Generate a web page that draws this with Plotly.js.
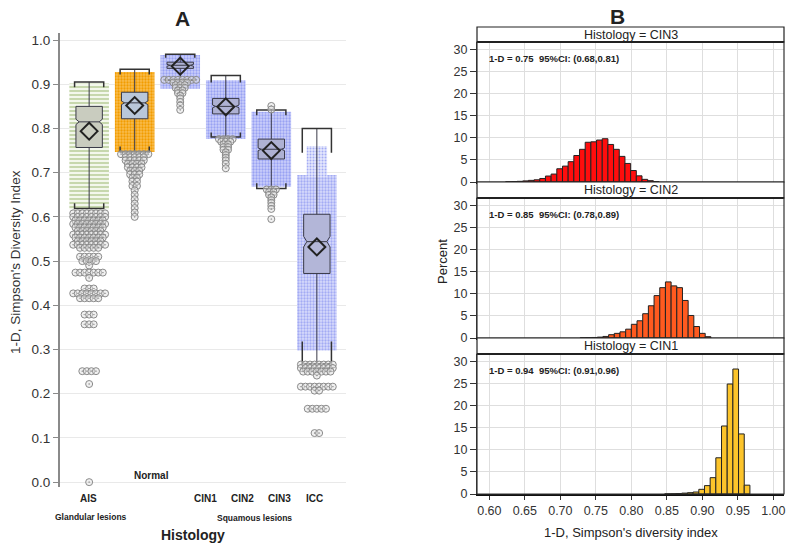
<!DOCTYPE html>
<html>
<head>
<meta charset="utf-8">
<script src="https://cdn.plot.ly/plotly-3.0.1.min.js"></script>
<style>
  html, body { margin: 0; padding: 0; background: #fff; }
  #chart { width: 790px; height: 547px; }
</style>
</head>
<body>
<div id="chart"></div>
<script>
// Panel A: box plot summaries per histology group
const groups = ['AIS', 'Normal', 'CIN1', 'CIN2', 'CIN3', 'ICC'];
const q1 = [0.757, 0.822, 0.936, 0.833, 0.731, 0.472];
const median = [0.815, 0.858, 0.943, 0.850, 0.753, 0.544];
const q3 = [0.850, 0.882, 0.950, 0.868, 0.776, 0.606];
const lowerFence = [0.619, 0.747, 0.909, 0.781, 0.664, 0.268];
const upperFence = [0.905, 0.934, 0.968, 0.920, 0.842, 0.800];
const means = [0.794, 0.852, 0.941, 0.849, 0.750, 0.532];
const notchSpan = [0.006, 0.004, 0.002, 0.003, 0.003, 0.012];

// extent of the jittered bootstrap clouds
const cloudLow = [0.617, 0.747, 0.890, 0.776, 0.668, 0.298];
const cloudHigh = [0.902, 0.928, 0.966, 0.909, 0.838, 0.695];
const iccTipLow = 0.69;
const iccTipHigh = 0.76;

// bracket depth of whisker caps
const upperCapDrop = [0.012, 0.012, 0.008, 0.016, 0.012, 0.055];
const lowerCapRise = [0.012, 0.012, 0.006, 0.010, 0.012, 0.050];

// outliers: value rows and how many circles in each row
const aisOutVals = [0.608, 0.600, 0.592, 0.584, 0.576, 0.568, 0.560, 0.553, 0.545, 0.537, 0.530, 0.510, 0.500, 0.490, 0.474, 0.462, 0.438, 0.427, 0.416, 0.379, 0.357, 0.251, 0.222, 0.000];
const aisOutCounts = [8, 8, 7, 8, 7, 6, 8, 7, 6, 8, 5, 5, 4, 1, 7, 1, 3, 8, 5, 3, 3, 4, 1, 1];
const normalOutVals = [0.742, 0.735, 0.728, 0.720, 0.712, 0.704, 0.696, 0.688, 0.680, 0.670, 0.660, 0.650, 0.640, 0.630, 0.620, 0.610, 0.600];
const normalOutCounts = [7, 5, 5, 4, 4, 3, 3, 2, 2, 2, 1, 1, 1, 1, 1, 1, 1];
const cin1OutVals = [0.910, 0.904, 0.898, 0.892, 0.886, 0.880, 0.874, 0.868, 0.860, 0.852, 0.842];
const cin1OutCounts = [8, 4, 3, 3, 2, 2, 1, 1, 1, 1, 1];
const cin2OutVals = [0.776, 0.770, 0.764, 0.758, 0.752, 0.746, 0.740, 0.734, 0.728, 0.720, 0.710];
const cin2OutCounts = [4, 3, 2, 2, 2, 1, 1, 1, 1, 1, 1];
const cin3OutVals = [0.851, 0.843, 0.662, 0.656, 0.650, 0.644, 0.638, 0.632, 0.625, 0.618, 0.595];
const cin3OutCounts = [1, 1, 3, 2, 2, 1, 1, 1, 1, 1, 1];
const iccOutVals = [0.266, 0.258, 0.250, 0.241, 0.216, 0.207, 0.166, 0.111];
const iccOutCounts = [8, 8, 7, 1, 8, 2, 5, 2];

// Panel B: bootstrap histograms (bin centres, percent)
const cin3Bins = [0.627, 0.635, 0.643, 0.651, 0.659, 0.667, 0.675, 0.683, 0.691, 0.699, 0.707, 0.715, 0.723, 0.731, 0.739, 0.747, 0.755, 0.763, 0.771, 0.779, 0.787, 0.795, 0.803, 0.811, 0.819, 0.827, 0.835];
const cin3Pct = [0.05, 0.1, 0.15, 0.25, 0.37, 0.5, 0.8, 1.35, 1.8, 3.0, 3.6, 4.6, 6.0, 7.4, 9.0, 9.1, 9.5, 9.8, 8.5, 7.4, 5.8, 4.2, 2.6, 1.4, 0.6, 0.3, 0.1];
const cin2Bins = [0.732, 0.740, 0.748, 0.756, 0.764, 0.772, 0.780, 0.788, 0.796, 0.804, 0.812, 0.820, 0.828, 0.836, 0.844, 0.852, 0.860, 0.868, 0.876, 0.884, 0.892, 0.900, 0.908];
const cin2Pct = [0.05, 0.08, 0.12, 0.2, 0.35, 0.75, 1.05, 1.4, 2.0, 3.1, 3.9, 5.5, 7.3, 9.6, 11.4, 12.7, 11.8, 11.4, 8.5, 5.1, 2.6, 1.05, 0.3];
const cin1Bins = [0.851, 0.859, 0.867, 0.875, 0.883, 0.891, 0.899, 0.907, 0.915, 0.923, 0.931, 0.939, 0.947, 0.955, 0.963];
const cin1Pct = [0.03, 0.05, 0.1, 0.2, 0.3, 0.45, 1.06, 1.9, 3.7, 8.2, 15.4, 24.9, 28.3, 13.6, 2.0];

const panelLabels = ['Histology = CIN3', 'Histology = CIN2', 'Histology = CIN1'];
const panelStats = ['1-D = 0.75  95%CI: (0.68,0.81)', '1-D = 0.85  95%CI: (0.78,0.89)', '1-D = 0.94  95%CI: (0.91,0.96)'];

const W = 790, H = 547;
const px = v => v / W;
const py = v => 1 - v / H;
const FONT = 'Liberation Sans, Arial, sans-serif';

const boxFills = ['#c9ccbf', '#b9c7da', '#aeb1d3', '#aeb1d3', '#aeb1d3', '#b3b6d8'];
const cloudFg = ['#a9c283', '#f29c00', '#99a2f3', '#99a2f3', '#99a2f3', '#a3abf4'];
const cloudBg = ['#f3f7ec', '#f9bd4e', '#ccd0fb', '#ccd0fb', '#ccd0fb', '#d9dcfc'];

const traces = [];

// clouds of jittered points, drawn as textured bands
groups.forEach((g, i) => {
  traces.push({
    type: 'bar', x: [i], base: [cloudLow[i]], y: [cloudHigh[i] - cloudLow[i]],
    width: 0.87, xaxis: 'x', yaxis: 'y', hoverinfo: 'skip', showlegend: false,
    marker: {
      color: cloudBg[i], line: { width: 0 },
      pattern: { shape: i === 0 ? '-' : '.', fgcolor: cloudFg[i], bgcolor: cloudBg[i], size: i === 0 ? 4 : 3, solidity: i === 0 ? 0.3 : 0.45 }
    }
  });
});
traces.push({
  type: 'bar', x: [5], base: [iccTipLow], y: [iccTipHigh - iccTipLow], width: 0.45,
  xaxis: 'x', yaxis: 'y', hoverinfo: 'skip', showlegend: false,
  marker: { color: cloudBg[5], line: { width: 0 }, pattern: { shape: '.', fgcolor: cloudFg[5], bgcolor: '#e6e8fd', size: 3, solidity: 0.35 } }
});

// boxes
groups.forEach((g, i) => {
  traces.push({
    type: 'box', orientation: 'v', x: [i],
    q1: [q1[i]], median: [median[i]], q3: [q3[i]],
    lowerfence: [lowerFence[i]], upperfence: [upperFence[i]],
    notched: true, notchspan: [notchSpan[i]], notchwidth: 0.12,
    width: 0.58, whiskerwidth: 0, boxpoints: false,
    fillcolor: boxFills[i], line: { color: '#3a3a48', width: 1 },
    xaxis: 'x', yaxis: 'y', hoverinfo: 'skip', showlegend: false
  });
});

// bracket-shaped whisker caps
const capX = [], capY = [];
const h = 0.32;
groups.forEach((g, i) => {
  capX.push(i - h, i - h, i + h, i + h, null, i - h, i - h, i + h, i + h, null);
  capY.push(upperFence[i] - upperCapDrop[i], upperFence[i], upperFence[i], upperFence[i] - upperCapDrop[i], null,
            lowerFence[i] + lowerCapRise[i], lowerFence[i], lowerFence[i], lowerFence[i] + lowerCapRise[i], null);
});
traces.push({
  type: 'scatter', mode: 'lines', x: capX, y: capY, connectgaps: false,
  line: { color: '#333', width: 1.5 }, xaxis: 'x', yaxis: 'y', hoverinfo: 'skip', showlegend: false
});

// outlier rows
const outX = [], outY = [];
const outSets = [
  [aisOutVals, aisOutCounts], [normalOutVals, normalOutCounts], [cin1OutVals, cin1OutCounts],
  [cin2OutVals, cin2OutCounts], [cin3OutVals, cin3OutCounts], [iccOutVals, iccOutCounts]
];
outSets.forEach(([vals, counts], i) => {
  vals.forEach((v, r) => {
    const n = counts[r];
    for (let k = 0; k < n; k++) {
      outX.push(i + (k - (n - 1) / 2) * 0.1);
      outY.push(v);
    }
  });
});
traces.push({
  type: 'scatter', mode: 'markers', x: outX, y: outY,
  marker: { symbol: 'circle-dot', size: 7, color: 'rgba(225,225,225,0.5)', line: { color: '#8a8a8a', width: 1 } },
  xaxis: 'x', yaxis: 'y', hoverinfo: 'skip', showlegend: false
});

// means
traces.push({
  type: 'scatter', mode: 'markers', x: groups.map((g, i) => i), y: means,
  marker: { symbol: 'diamond-open', size: 13, color: '#222', line: { color: '#222', width: 2 } },
  xaxis: 'x', yaxis: 'y', hoverinfo: 'skip', showlegend: false
});

// histograms
const hists = [[cin3Bins, cin3Pct, '#ff0d0d'], [cin2Bins, cin2Pct, '#ff5a1f'], [cin1Bins, cin1Pct, '#fcc42b']];
hists.forEach(([bins, pct, col], k) => {
  traces.push({
    type: 'bar', x: bins, y: pct, width: 0.008,
    marker: { color: col, line: { color: '#222', width: 1 } },
    xaxis: 'x' + (k + 2), yaxis: 'y' + (k + 2), hoverinfo: 'skip', showlegend: false
  });
});

// geometry of the right-hand panels (pixels)
const panelTop = [42, 198, 354];
const panelBottom = [182, 338, 494];
const headerTop = [27, 182, 338];
const rL = 477, rR = 784;

const layout = {
  width: W, height: H,
  margin: { l: 0, r: 0, t: 0, b: 0 },
  paper_bgcolor: '#fff', plot_bgcolor: 'rgba(0,0,0,0)',
  font: { family: FONT, color: '#333' },
  barmode: 'overlay', boxmode: 'overlay',
  xaxis: {
    domain: [px(60), px(346)], range: [-0.64, 5.64], anchor: 'y',
    showticklabels: false, showgrid: false, zeroline: false, showline: false, ticks: ''
  },
  yaxis: {
    domain: [py(487), py(33)], range: [-0.011, 1.016], anchor: 'x',
    dtick: 0.1, tick0: 0, tickformat: '.1f', showline: true, linecolor: '#8a8a8a', linewidth: 2,
    ticks: 'outside', ticklen: 5, tickcolor: '#8a8a8a', gridcolor: '#e9e9e9', zeroline: false,
    tickfont: { size: 13.5, color: '#333' }
  },
  shapes: [],
  annotations: []
};

const xTicks = [0.6, 0.65, 0.7, 0.75, 0.8, 0.85, 0.9, 0.95, 1.0];
[2, 3, 4].forEach((n, k) => {
  layout['xaxis' + n] = {
    domain: [px(rL), px(rR)], range: [0.5826, 1.015], anchor: 'y' + n,
    matches: n === 2 ? undefined : 'x2',
    tickvals: xTicks, tickformat: '.2f', showticklabels: n === 4,
    ticks: n === 4 ? 'outside' : '', ticklen: 4, tickcolor: '#333',
    showgrid: true, gridcolor: '#dedede', gridwidth: 1, zeroline: false,
    showline: true, linecolor: '#111', linewidth: 2,
    tickfont: { size: 12.5, color: '#333' }
  };
  layout['yaxis' + n] = {
    domain: [py(panelBottom[k]), py(panelTop[k])], range: [0, 31.7], anchor: 'x' + n,
    tickvals: [0, 5, 10, 15, 20, 25, 30], showline: true, linecolor: '#333', linewidth: 1,
    ticks: 'outside', ticklen: 6, tickcolor: '#333',
    showgrid: true, gridcolor: '#dedede', zeroline: false,
    tickfont: { size: 12.5, color: '#333' }
  };
  // strip header
  layout.shapes.push({
    type: 'rect', xref: 'paper', yref: 'paper',
    x0: px(rL), x1: px(rR), y0: py(panelTop[k]), y1: py(headerTop[k]),
    fillcolor: '#fff', line: { color: '#222', width: 1.2 }
  });
  layout.shapes.push({
    type: 'line', xref: 'paper', yref: 'paper',
    x0: px(rL), x1: px(rR), y0: py(panelTop[k]), y1: py(panelTop[k]),
    line: { color: '#111', width: 2.2 }
  });
  // panel frame
  layout.shapes.push({
    type: 'rect', xref: 'paper', yref: 'paper',
    x0: px(rL), x1: px(rR), y0: py(panelBottom[k]), y1: py(panelTop[k]),
    line: { color: '#333', width: 1.2 }
  });
  layout.annotations.push({
    xref: 'paper', yref: 'paper', x: px((rL + rR) / 2), y: py((headerTop[k] + panelTop[k]) / 2),
    xanchor: 'center', yanchor: 'middle',
    text: panelLabels[k], showarrow: false, font: { size: 12.5, color: '#222' }
  });
  layout.annotations.push({
    xref: 'paper', yref: 'paper', x: px(487), y: py(panelTop[k] + 16), xanchor: 'left', yanchor: 'middle',
    text: '<b>' + panelStats[k] + '</b>', showarrow: false, font: { size: 9.5, color: '#222' }
  });
});

const ann = (x, y, text, size, extra) => Object.assign({
  xref: 'paper', yref: 'paper', x: px(x), y: py(y), text: text, showarrow: false,
  xanchor: 'center', yanchor: 'middle',
  font: { size: size, color: '#222' }
}, extra || {});

layout.annotations.push(
  ann(182, 18, '<b>A</b>', 21),
  ann(617, 16, '<b>B</b>', 21),
  ann(15, 262, "1-D, Simpson's Diversity Index", 13.5, { textangle: -90, font: { size: 13.5, color: '#333' } }),
  ann(88, 498, '<b>AIS</b>', 10),
  ann(151, 475, '<b>Normal</b>', 10),
  ann(205, 498, '<b>CIN1</b>', 10),
  ann(242, 498, '<b>CIN2</b>', 10),
  ann(279, 498, '<b>CIN3</b>', 10),
  ann(314, 498, '<b>ICC</b>', 10),
  ann(91, 517, '<b>Glandular lesions</b>', 8.5),
  ann(254, 518, '<b>Squamous lesions</b>', 8.5),
  ann(193, 535, '<b>Histology</b>', 14),
  ann(442, 262, 'Percent', 13, { textangle: -90, font: { size: 13, color: '#222' } }),
  ann(631, 532, "1-D, Simpson's diversity index", 13, { font: { size: 13, color: '#222' } })
);

Plotly.newPlot('chart', traces, layout, { staticPlot: true, displayModeBar: false });
</script>
</body>
</html>
